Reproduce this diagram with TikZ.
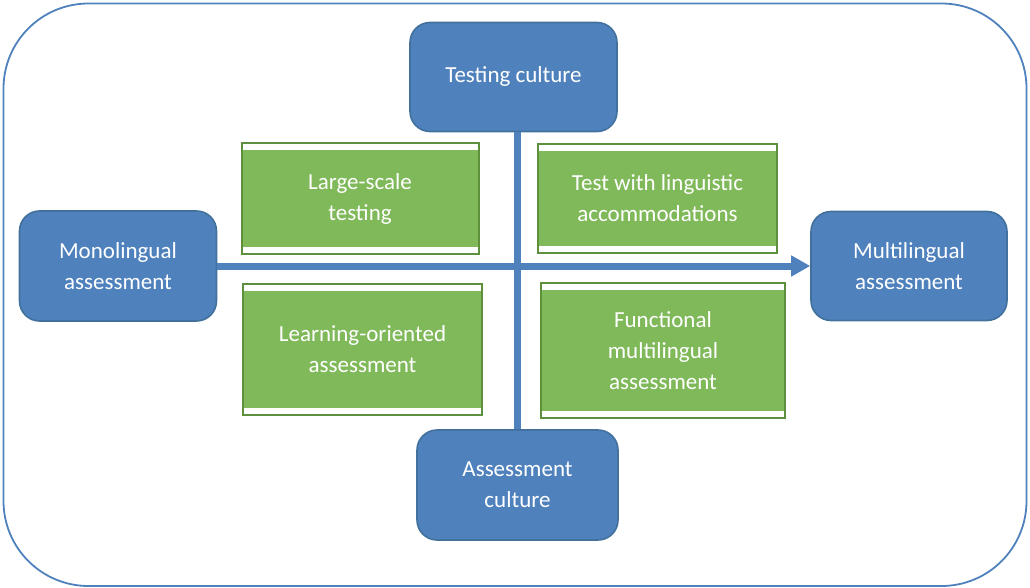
\documentclass[tikz,border=0pt]{standalone}
\usepackage{fontspec}
\setmainfont{Carlito}
\usetikzlibrary{arrows.meta}
\definecolor{boxblue}{HTML}{4F81BD}
\definecolor{edgeblue}{HTML}{41719C}
\definecolor{boxgreen}{HTML}{80B95A}
\definecolor{edgegreen}{HTML}{5E8F3C}
\tikzset{
  culture/.style={draw=edgeblue,line width=1.6pt,fill=boxblue,rounded corners=20pt,
    text=white,align=center,inner sep=0pt,font=\fontsize{23}{31}\selectfont},
  quadrant/.style={draw=edgegreen,line width=2pt,fill=white,text=white,align=center,
    inner sep=0pt,font=\fontsize{23}{31}\selectfont,
    path picture={\fill[boxgreen] ([xshift=1pt,yshift=7pt]path picture bounding box.south west)
      rectangle ([xshift=-1pt,yshift=-7pt]path picture bounding box.north east);}},
  axis/.style={draw=boxblue,line width=7pt}
}
\begin{document}
\begin{tikzpicture}[x=1pt,y=-1pt]
	\useasboundingbox (0,0) rectangle (1030,588);
	\draw[boxblue,line width=1.8pt,rounded corners=85pt] (3.5,3.5) rectangle (1026.5,586);
	% outer poles
	\node[culture,minimum width=207pt,minimum height=109pt] (testing) at (513.5,77) {\raisebox{5pt}{Testing culture}};
	\node[culture,minimum width=201pt,minimum height=110pt] (assess) at (517.5,485) {Assessment\\culture};
	\node[culture,minimum width=197pt,minimum height=110pt] (mono) at (118,266) {Monolingual\\assessment};
	\node[culture,minimum width=196pt,minimum height=109pt] (multi) at (909,266) {Multilingual\\assessment};
	% quadrants
	\node[quadrant,minimum width=237pt,minimum height=110pt] (large) at (360,198.5) {Large-scale\\testing};
	\node[quadrant,minimum width=239pt,minimum height=109pt] (accom) at (657.5,198.5) {Test with linguistic\\accommodations};
	\node[quadrant,minimum width=239pt,minimum height=131pt] (learn) at (362.5,349.5) {Learning-oriented\\assessment};
	\node[quadrant,minimum width=244pt,minimum height=135pt] (func) at (663,350.5) {Functional\\multilingual\\assessment};
	% axes
	\draw[axis] (assess.north |- testing.south) -- (assess.north);
	\draw[axis,-{Triangle[length=19pt,width=20pt]}] (mono.east) -- (multi.west);
\end{tikzpicture}
\end{document}
